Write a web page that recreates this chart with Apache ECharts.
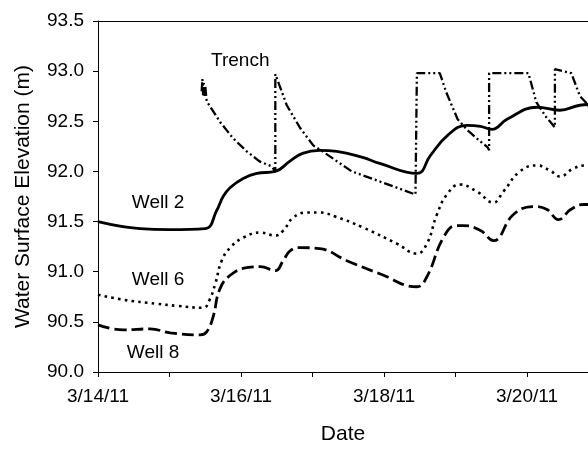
<!DOCTYPE html>
<html>
<head>
<meta charset="utf-8">
<title>Water Surface Elevation</title>
<script src="https://cdn.jsdelivr.net/npm/echarts@6/dist/echarts.min.js"></script>
<style>
  html, body { margin: 0; padding: 0; background: #fff; }
  #chart { width: 588px; height: 450px; }
</style>
</head>
<body>
<div id="chart"></div>
<script>
// Time is expressed as day of March 2011 (14.5 = noon on 3/14/11).
const tickDays = [14, 15, 16, 17, 18, 19, 20];
const tickLabels = { 14: '3/14/11', 16: '3/16/11', 18: '3/18/11', 20: '3/20/11' };
const DAY_MIN = 14;
const DAY_MAX = 20.853;   // the window runs out partway through 3/20

const well2Days = [14.00, 14.59, 15.00, 15.50, 15.66, 15.75, 15.85, 16.03, 16.22, 16.48, 16.68, 16.86, 17.10, 17.34, 17.70, 17.94, 18.46, 18.65, 18.89, 19.16, 19.35, 19.51, 19.72, 20.14, 20.46, 20.74, 21.00];
const well2Vals = [91.50, 91.43, 91.42, 91.43, 91.61, 91.75, 91.84, 91.93, 91.98, 92.00, 92.10, 92.18, 92.21, 92.20, 92.14, 92.08, 91.98, 92.16, 92.36, 92.46, 92.45, 92.42, 92.52, 92.64, 92.61, 92.66, 92.67];

const well6Days = [14.00, 14.36, 14.82, 15.10, 15.47, 15.56, 15.64, 15.73, 15.85, 16.03, 16.27, 16.48, 16.59, 16.73, 16.92, 17.10, 17.32, 17.71, 18.18, 18.46, 18.60, 18.74, 18.88, 19.06, 19.30, 19.53, 19.67, 19.90, 20.14, 20.32, 20.46, 20.65, 20.83, 21.00];
const well6Vals = [90.77, 90.72, 90.68, 90.66, 90.64, 90.72, 90.88, 91.11, 91.24, 91.34, 91.39, 91.36, 91.41, 91.54, 91.59, 91.59, 91.55, 91.44, 91.28, 91.18, 91.28, 91.57, 91.77, 91.87, 91.80, 91.69, 91.80, 92.00, 92.06, 92.01, 91.95, 92.03, 92.06, 92.06];

const well8Days = [14.00, 14.35, 14.73, 15.01, 15.43, 15.52, 15.61, 15.70, 15.84, 16.08, 16.27, 16.48, 16.59, 16.69, 16.83, 17.10, 17.48, 17.94, 18.46, 18.60, 18.83, 19.01, 19.11, 19.35, 19.53, 19.81, 20.09, 20.28, 20.44, 20.61, 20.79, 21.00];
const well8Vals = [90.47, 90.42, 90.43, 90.39, 90.37, 90.40, 90.55, 90.82, 90.96, 91.04, 91.05, 91.01, 91.11, 91.21, 91.24, 91.23, 91.11, 90.98, 90.85, 90.95, 91.34, 91.46, 91.46, 91.41, 91.31, 91.57, 91.65, 91.62, 91.52, 91.62, 91.67, 91.67];

const trenchDays = [15.45, 15.46, 15.47, 15.48, 15.49, 15.50, 15.52, 15.71, 15.89, 16.08, 16.26, 16.43, 16.48, 16.48, 16.64, 16.83, 17.01, 17.14, 17.55, 17.94, 18.44, 18.46, 18.46, 18.78, 18.87, 19.03, 19.17, 19.33, 19.45, 19.47, 19.47, 20.02, 20.13, 20.27, 20.39, 20.39, 20.62, 20.74, 20.82, 21.00];
const trenchVals = [92.80, 92.92, 92.76, 92.88, 92.74, 92.85, 92.70, 92.49, 92.33, 92.20, 92.10, 92.05, 92.00, 92.97, 92.66, 92.43, 92.26, 92.20, 92.00, 91.90, 91.77, 91.77, 92.98, 92.98, 92.79, 92.52, 92.41, 92.31, 92.24, 92.21, 92.98, 92.98, 92.69, 92.54, 92.44, 93.02, 92.98, 92.75, 92.69, 92.50];

// Curve labels, placed in data coordinates [day, elevation]
const curveLabels = [
  { name: 'Trench', at: [15.99, 93.10] },
  { name: 'Well 2', at: [14.84, 91.69] },
  { name: 'Well 6', at: [14.84, 90.92] },
  { name: 'Well 8', at: [14.77, 90.19] }
];

const zip = (xs, ys) => xs.map((x, i) => [x, ys[i]]);
const FONT = "'Liberation Sans', Arial, sans-serif";

const chart = echarts.init(document.getElementById('chart'), null, { renderer: 'canvas' });

chart.setOption({
  animation: false,
  backgroundColor: '#fff',
  grid: { left: 98, top: 21, right: 0, bottom: 74, show: false },
  xAxis: [
    {
      type: 'value', min: DAY_MIN, max: DAY_MAX, position: 'bottom',
      name: 'Date', nameLocation: 'middle', nameGap: 52,
      nameTextStyle: { fontFamily: FONT, fontSize: 21, color: '#000' },
      axisLine: { lineStyle: { color: '#000', width: 1 } },
      axisTick: { show: true, inside: false, length: 5, customValues: tickDays, lineStyle: { color: '#000' } },
      axisLabel: {
        margin: 15, fontFamily: FONT, fontSize: 19, color: '#000',
        customValues: tickDays,
        formatter: v => tickLabels[Math.round(v)] || ''
      },
      splitLine: { show: false }
    },
    {
      // top frame line
      type: 'value', min: DAY_MIN, max: DAY_MAX, position: 'top',
      axisLine: { show: true, lineStyle: { color: '#000', width: 1 } },
      axisTick: { show: false }, axisLabel: { show: false }, splitLine: { show: false }
    }
  ],
  yAxis: {
    type: 'value', min: 90, max: 93.5, interval: 0.5,
    name: 'Water Surface Elevation (m)', nameLocation: 'middle', nameGap: 64,
    nameTextStyle: { fontFamily: FONT, fontSize: 21, color: '#000' },
    axisLine: { show: true, lineStyle: { color: '#000', width: 1 } },
    axisTick: { show: true, inside: false, length: 5, lineStyle: { color: '#000' } },
    axisLabel: {
      margin: 14, fontFamily: FONT, fontSize: 19, color: '#000',
      formatter: v => v.toFixed(1)
    },
    splitLine: { show: false }
  },
  series: [
    {
      name: 'Well 2', type: 'line', data: zip(well2Days, well2Vals),
      showSymbol: false, smooth: 0.45,
      lineStyle: { color: '#000', width: 2.8, type: 'solid' },
      markPoint: {
        symbolSize: 0,
        label: { show: true, fontFamily: FONT, fontSize: 19, color: '#000', formatter: p => p.name },
        data: curveLabels.map(c => ({ name: c.name, coord: c.at }))
      }
    },
    {
      name: 'Well 6', type: 'line', data: zip(well6Days, well6Vals),
      showSymbol: false, smooth: 0.45,
      lineStyle: { color: '#000', width: 2.6, type: [2.6, 4.2] }
    },
    {
      name: 'Well 8', type: 'line', data: zip(well8Days, well8Vals),
      showSymbol: false, smooth: 0.45,
      lineStyle: { color: '#000', width: 2.8, type: [12, 5] }
    },
    {
      name: 'Trench', type: 'line', data: zip(trenchDays, trenchVals),
      showSymbol: false, smooth: false,
      lineStyle: { color: '#000', width: 2.3, type: [9, 3, 2, 3, 2, 3] }
    }
  ]
});
</script>
</body>
</html>
